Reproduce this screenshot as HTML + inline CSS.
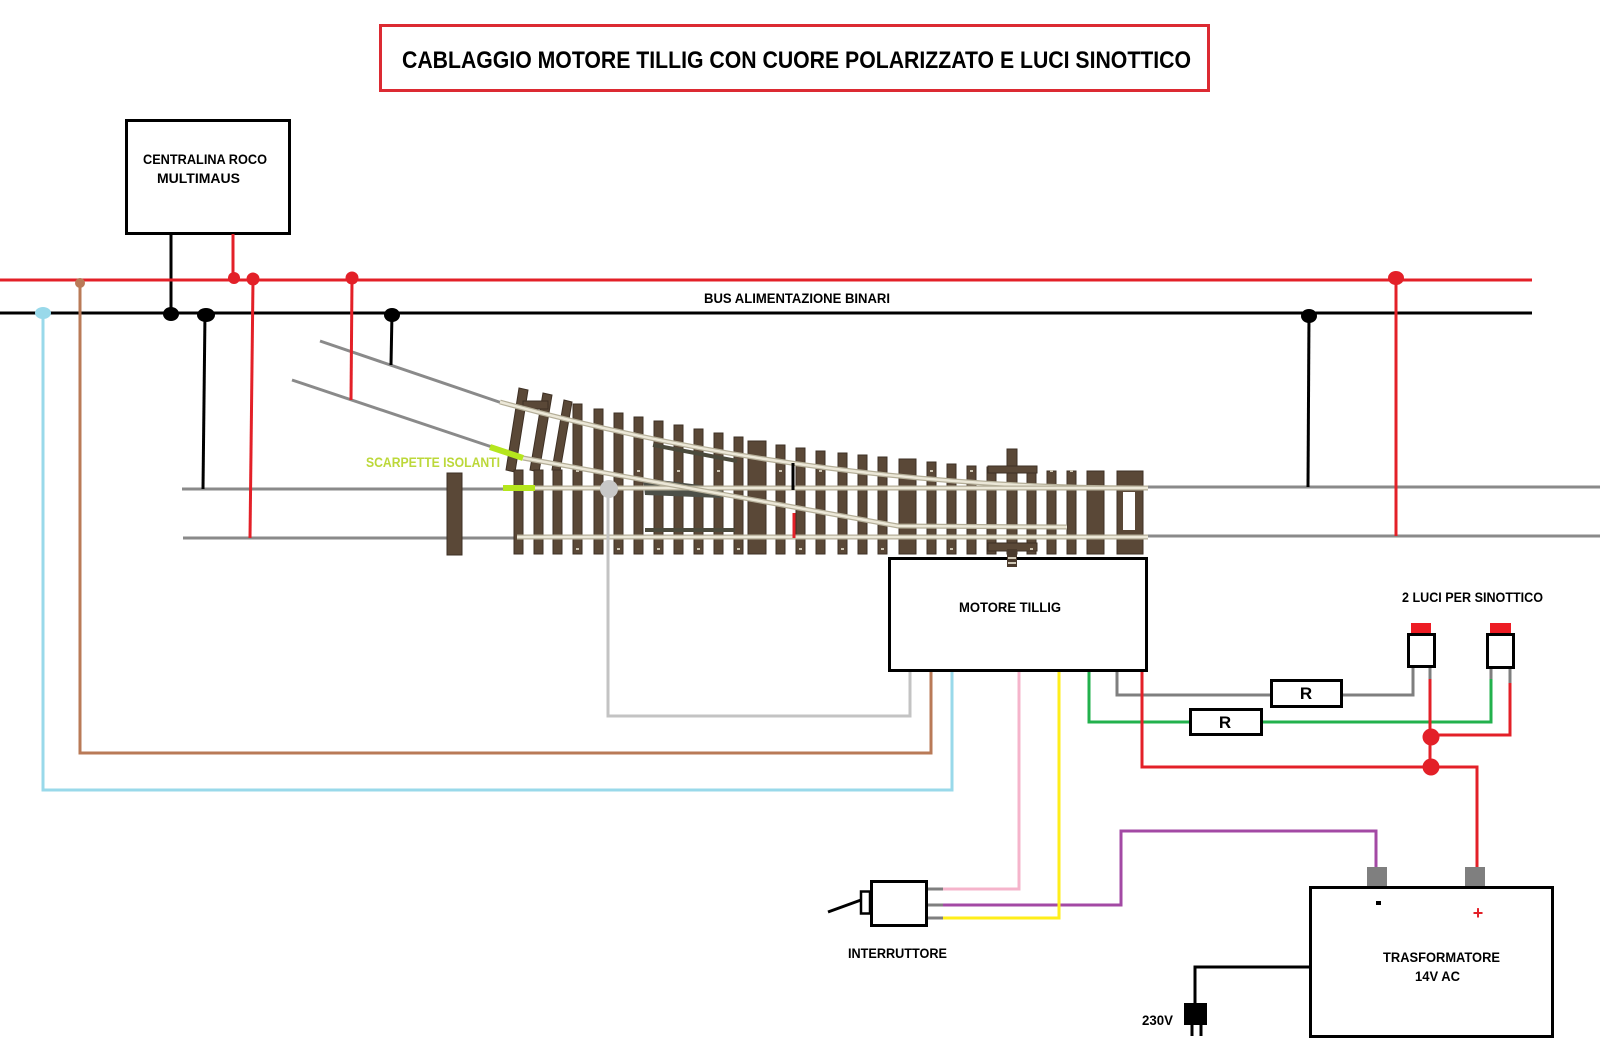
<!DOCTYPE html>
<html>
<head>
<meta charset="utf-8">
<style>
  html,body{margin:0;padding:0;background:#fff;}
  svg{display:block;}
  text{font-family:"Liberation Sans",sans-serif;font-weight:bold;}
</style>
</head>
<body>
<svg width="1600" height="1045" viewBox="0 0 1600 1045" xmlns="http://www.w3.org/2000/svg">
  <rect x="0" y="0" width="1600" height="1045" fill="#fff"/>

  <!-- Title -->
  <rect x="380.5" y="25.5" width="828" height="65" fill="#fff" stroke="#dc2a32" stroke-width="3"/>
  <text x="402" y="68" font-size="24" textLength="789" lengthAdjust="spacingAndGlyphs" fill="#000">CABLAGGIO MOTORE TILLIG CON CUORE POLARIZZATO E LUCI SINOTTICO</text>

  <!-- Centralina -->
  <rect x="126.5" y="120.5" width="163" height="113" fill="#fff" stroke="#000" stroke-width="3"/>
  <text x="143" y="164" font-size="13.5" textLength="124" lengthAdjust="spacingAndGlyphs">CENTRALINA ROCO</text>
  <text x="157" y="183" font-size="13.5" textLength="83" lengthAdjust="spacingAndGlyphs">MULTIMAUS</text>

  <!-- centralina wires -->
  <line x1="171" y1="234" x2="171" y2="314" stroke="#000" stroke-width="3"/>
  <line x1="233" y1="234" x2="233" y2="280" stroke="#e32028" stroke-width="3"/>

  <!-- Bus lines -->
  <line x1="0" y1="280" x2="1532" y2="280" stroke="#e32028" stroke-width="3"/>
  <line x1="0" y1="313" x2="1532" y2="313" stroke="#000" stroke-width="3"/>
  <text x="704" y="303" font-size="13.5" textLength="186" lengthAdjust="spacingAndGlyphs">BUS ALIMENTAZIONE BINARI</text>

  <!-- Gray outer rails -->
  <line x1="182" y1="489" x2="510" y2="489" stroke="#8a8a8a" stroke-width="3"/>
  <line x1="183" y1="538" x2="520" y2="538" stroke="#8a8a8a" stroke-width="3"/>
  <line x1="1145" y1="487" x2="1600" y2="487" stroke="#8a8a8a" stroke-width="3"/>
  <line x1="1145" y1="536" x2="1600" y2="536" stroke="#8a8a8a" stroke-width="3"/>
  <line x1="320" y1="341" x2="502" y2="403" stroke="#8a8a8a" stroke-width="3"/>
  <line x1="292" y1="380" x2="492" y2="447" stroke="#8a8a8a" stroke-width="3"/>

  <!-- Track sleepers -->
  <g fill="#5a4837" stroke="#3e3024" stroke-width="1">
    <rect x="447" y="473" width="15" height="82"/>
    <polygon points="519,388 528,390 515,472 506,470"/>
    <polygon points="543,393 552,395 539,472 530,470"/>
    <polygon points="564,400 572,402 560,471 552,470"/>
    <rect x="523" y="401" width="25" height="8"/>
    <rect x="514" y="470" width="9" height="84"/>
    <rect x="534" y="470" width="9" height="84"/>
    <rect x="553" y="470" width="9" height="84"/>
    <rect x="573" y="404" width="9" height="150"/>
    <rect x="594" y="409" width="9" height="145"/>
    <rect x="614" y="413" width="9" height="141"/>
    <rect x="634" y="417" width="9" height="137"/>
    <rect x="654" y="421" width="9" height="133"/>
    <rect x="674" y="425" width="9" height="129"/>
    <rect x="694" y="429" width="9" height="125"/>
    <rect x="714" y="433" width="9" height="121"/>
    <rect x="734" y="437" width="9" height="117"/>
    <rect x="748" y="441" width="18" height="113"/>
    <rect x="776" y="445" width="9" height="109"/>
    <rect x="796" y="448" width="9" height="106"/>
    <rect x="816" y="451" width="9" height="103"/>
    <rect x="838" y="453" width="9" height="101"/>
    <rect x="858" y="455" width="9" height="99"/>
    <rect x="878" y="457" width="9" height="97"/>
    <rect x="899" y="459" width="17" height="95"/>
    <rect x="927" y="462" width="9" height="92"/>
    <rect x="947" y="464" width="9" height="90"/>
    <rect x="967" y="466" width="9" height="88"/>
    <rect x="987" y="467" width="9" height="87"/>
    <rect x="1007" y="449" width="10" height="105"/>
    <rect x="1027" y="469" width="9" height="85"/>
    <rect x="1047" y="471" width="9" height="83"/>
    <rect x="1067" y="471" width="9" height="83"/>
    <rect x="1087" y="471" width="17" height="83"/>
    <rect x="1117" y="471" width="26" height="83"/>
    <rect x="988" y="466" width="49" height="7"/>
    <rect x="988" y="543" width="49" height="8"/>
  </g>
  <rect x="1123" y="492" width="12" height="38" fill="#fff"/>
  <!-- sleeper clip marks -->
  <g fill="#cfc7b5">
    <rect x="576" y="470" width="3" height="2"/><rect x="597" y="470" width="3" height="2"/>
    <rect x="637" y="470" width="3" height="2"/><rect x="677" y="470" width="3" height="2"/>
    <rect x="717" y="470" width="3" height="2"/><rect x="779" y="470" width="3" height="2"/>
    <rect x="819" y="470" width="3" height="2"/><rect x="861" y="470" width="3" height="2"/>
    <rect x="930" y="470" width="3" height="2"/><rect x="970" y="470" width="3" height="2"/>
    <rect x="1050" y="470" width="3" height="2"/><rect x="1070" y="470" width="3" height="2"/>
    <rect x="576" y="548" width="3" height="2"/><rect x="617" y="548" width="3" height="2"/>
    <rect x="657" y="548" width="3" height="2"/><rect x="697" y="548" width="3" height="2"/>
    <rect x="737" y="548" width="3" height="2"/><rect x="799" y="548" width="3" height="2"/>
    <rect x="841" y="548" width="3" height="2"/><rect x="881" y="548" width="3" height="2"/>
    <rect x="950" y="548" width="3" height="2"/><rect x="1030" y="548" width="3" height="2"/>
  </g>

  <!-- Dark frog parts -->
  <line x1="653" y1="445" x2="737" y2="461" stroke="#4b4a3c" stroke-width="4"/>
  <polygon points="643,478 700,485 722,489 722,498 645,495" fill="#4d5048"/>
  <line x1="645" y1="530" x2="735" y2="530" stroke="#4b4a3c" stroke-width="4"/>

  <!-- Cream rails -->
  <g fill="none" stroke-linecap="butt">
    <path d="M500,402 Q816,489 1148,488" stroke="#b4ae98" stroke-width="5"/>
    <path d="M500,402 Q816,489 1148,488" stroke="#ece8d8" stroke-width="2.5"/>
    <path d="M535,488 L1148,488" stroke="#b4ae98" stroke-width="5"/>
    <path d="M535,488 L1148,488" stroke="#ece8d8" stroke-width="2.5"/>
    <path d="M523,458 L898,526 L1067,527" stroke="#b4ae98" stroke-width="5"/>
    <path d="M523,458 L898,526 L1067,527" stroke="#ece8d8" stroke-width="2.5"/>
    <path d="M517,537 L1148,537" stroke="#b4ae98" stroke-width="5"/>
    <path d="M517,537 L1148,537" stroke="#ece8d8" stroke-width="2.5"/>
  </g>
  <!-- markers on track -->
  <line x1="793" y1="463" x2="793" y2="490" stroke="#000" stroke-width="3"/>
  <line x1="794" y1="513" x2="794" y2="538" stroke="#e32028" stroke-width="3"/>

  <!-- Scarpette isolanti -->
  <line x1="490" y1="447" x2="523" y2="458" stroke="#b5e61d" stroke-width="6"/>
  <line x1="503" y1="488" x2="535" y2="488" stroke="#b5e61d" stroke-width="6"/>
  <text x="366" y="467" font-size="13.5" textLength="134" lengthAdjust="spacingAndGlyphs" fill="#bcd83a">SCARPETTE ISOLANTI</text>

  <!-- Bus droppers -->
  <line x1="205" y1="313" x2="203" y2="489" stroke="#000" stroke-width="3"/>
  <line x1="253" y1="280" x2="250" y2="538" stroke="#e32028" stroke-width="3"/>
  <line x1="352" y1="280" x2="351" y2="400" stroke="#e32028" stroke-width="3"/>
  <line x1="392" y1="313" x2="391" y2="365" stroke="#000" stroke-width="3"/>
  <line x1="1309" y1="313" x2="1308" y2="487" stroke="#000" stroke-width="3"/>
  <line x1="1396" y1="280" x2="1396" y2="536" stroke="#e32028" stroke-width="3"/>

  <!-- Long wires from motor -->
  <polyline points="80,283 80,753 931,753 931,672" fill="none" stroke="#b97a57" stroke-width="3"/>
  <polyline points="43,313 43,790 952,790 952,672" fill="none" stroke="#99d9ea" stroke-width="3"/>
  <polyline points="608,490 608,716 910,716 910,672" fill="none" stroke="#c3c3c3" stroke-width="3"/>
  <circle cx="609" cy="489" r="9" fill="#c8c8c8"/>

  <!-- Bus dots -->
  <ellipse cx="43" cy="313" rx="8" ry="6" fill="#99d9ea"/>
  <circle cx="80" cy="283" r="5" fill="#b97a57"/>
  <ellipse cx="171" cy="314" rx="8" ry="7" fill="#000"/>
  <ellipse cx="206" cy="315" rx="9" ry="7" fill="#000"/>
  <circle cx="234" cy="278" r="6" fill="#e32028"/>
  <circle cx="253" cy="279" r="6.5" fill="#e32028"/>
  <circle cx="352" cy="278" r="6.5" fill="#e32028"/>
  <ellipse cx="392" cy="315" rx="8" ry="7" fill="#000"/>
  <ellipse cx="1309" cy="316" rx="8" ry="7" fill="#000"/>
  <ellipse cx="1396" cy="278" rx="8" ry="7" fill="#e32028"/>

  <!-- Motor box -->
  <rect x="889.5" y="558.5" width="257" height="112" fill="#fff" stroke="#000" stroke-width="3"/>
  <rect x="1007" y="549" width="10" height="18" fill="#4a3a2c"/>
  <rect x="1008" y="557" width="8" height="2" fill="#cfc7b5"/>
  <rect x="1008" y="562" width="8" height="2" fill="#cfc7b5"/>
  <text x="959" y="612" font-size="14" textLength="102" lengthAdjust="spacingAndGlyphs">MOTORE TILLIG</text>

  <!-- Lights / resistor wiring -->
  <polyline points="1117,672 1117,695 1270,695" fill="none" stroke="#7f7f7f" stroke-width="3"/>
  <polyline points="1342,695 1413,695 1413,667" fill="none" stroke="#7f7f7f" stroke-width="3"/>
  <polyline points="1089,672 1089,722 1189,722" fill="none" stroke="#22b14c" stroke-width="3"/>
  <polyline points="1262,722 1491,722 1491,678" fill="none" stroke="#22b14c" stroke-width="3"/>
  <line x1="1491" y1="667" x2="1491" y2="679" stroke="#7f7f7f" stroke-width="3"/>
  <polyline points="1142,672 1142,767 1477,767 1477,867" fill="none" stroke="#e32028" stroke-width="3"/>
  <line x1="1430" y1="678" x2="1430" y2="767" stroke="#e32028" stroke-width="3"/>
  <line x1="1430" y1="667" x2="1430" y2="679" stroke="#7f7f7f" stroke-width="3"/>
  <polyline points="1510,682 1510,735 1431,735" fill="none" stroke="#e32028" stroke-width="3"/>
  <line x1="1510" y1="667" x2="1510" y2="683" stroke="#7f7f7f" stroke-width="3"/>
  <circle cx="1431" cy="737" r="8.5" fill="#e32028"/>
  <circle cx="1431" cy="767" r="8.5" fill="#e32028"/>

  <!-- Resistors -->
  <rect x="1271.5" y="680.5" width="70" height="26" fill="#fff" stroke="#000" stroke-width="3"/>
  <text x="1306" y="699" font-size="17" text-anchor="middle">R</text>
  <rect x="1190.5" y="709.5" width="71" height="25" fill="#fff" stroke="#000" stroke-width="3"/>
  <text x="1225" y="728" font-size="17" text-anchor="middle">R</text>

  <!-- Lights -->
  <rect x="1411" y="623" width="20" height="11" fill="#ed1c24"/>
  <rect x="1408.5" y="634.5" width="26" height="32" fill="#fff" stroke="#000" stroke-width="3"/>
  <rect x="1490" y="623" width="21" height="11" fill="#ed1c24"/>
  <rect x="1487.5" y="634.5" width="26" height="33" fill="#fff" stroke="#000" stroke-width="3"/>
  <text x="1402" y="602" font-size="13.5" textLength="141" lengthAdjust="spacingAndGlyphs">2 LUCI PER SINOTTICO</text>

  <!-- Switch wires -->
  <polyline points="943,889 1019,889 1019,672" fill="none" stroke="#f5b4cb" stroke-width="3"/>
  <polyline points="943,905 1121,905 1121,831 1376,831 1376,867" fill="none" stroke="#a349a4" stroke-width="3"/>
  <polyline points="943,918 1059,918 1059,672" fill="none" stroke="#ffee1a" stroke-width="3"/>

  <!-- Switch (interruttore) -->
  <line x1="828" y1="912" x2="861" y2="900" stroke="#000" stroke-width="3"/>
  <rect x="861" y="891.5" width="9" height="22" fill="#fff" stroke="#000" stroke-width="2.5"/>
  <rect x="871.5" y="881.5" width="55" height="44" fill="#fff" stroke="#000" stroke-width="3"/>
  <line x1="928" y1="889" x2="943" y2="889" stroke="#7f7f7f" stroke-width="3"/>
  <line x1="928" y1="905" x2="943" y2="905" stroke="#7f7f7f" stroke-width="3"/>
  <line x1="928" y1="918" x2="943" y2="918" stroke="#7f7f7f" stroke-width="3"/>
  <text x="848" y="958" font-size="13.5" textLength="99" lengthAdjust="spacingAndGlyphs">INTERRUTTORE</text>

  <!-- Transformer -->
  <rect x="1367" y="867" width="20" height="20" fill="#7f7f7f"/>
  <rect x="1465" y="867" width="20" height="20" fill="#7f7f7f"/>
  <rect x="1310.5" y="887.5" width="242" height="149" fill="#fff" stroke="#000" stroke-width="3"/>
  <rect x="1376" y="901" width="5" height="4" fill="#000"/>
  <text x="1478" y="919" font-size="18" text-anchor="middle" fill="#e32028">+</text>
  <text x="1383" y="962" font-size="13.5" textLength="117" lengthAdjust="spacingAndGlyphs">TRASFORMATORE</text>
  <text x="1415" y="981" font-size="13.5" textLength="45" lengthAdjust="spacingAndGlyphs">14V AC</text>

  <!-- Plug -->
  <polyline points="1309,967 1195,967 1195,1003" fill="none" stroke="#000" stroke-width="3"/>
  <rect x="1184" y="1003" width="23" height="22" fill="#000"/>
  <line x1="1192" y1="1025" x2="1192" y2="1036" stroke="#000" stroke-width="3"/>
  <line x1="1201" y1="1025" x2="1201" y2="1036" stroke="#000" stroke-width="3"/>
  <text x="1142" y="1025" font-size="13.5" textLength="31" lengthAdjust="spacingAndGlyphs">230V</text>
</svg>
</body>
</html>
